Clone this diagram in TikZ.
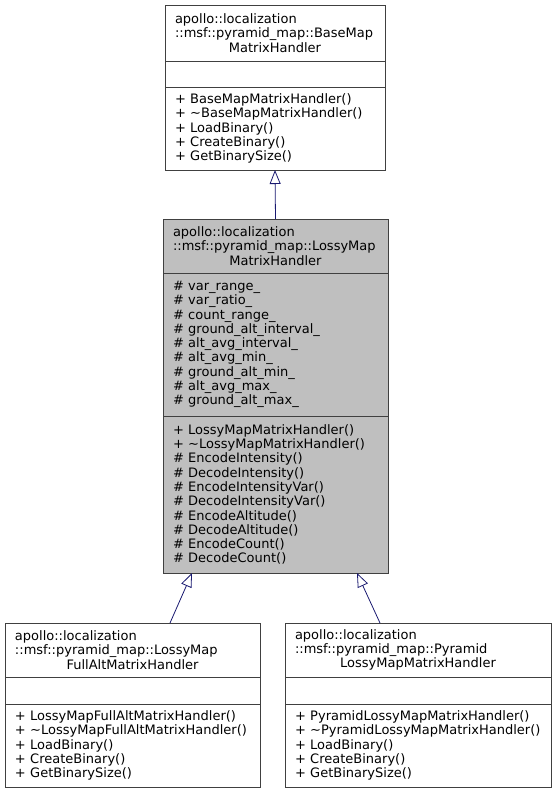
\documentclass[tikz,border=0pt]{standalone}
\usepackage{fontspec}
\setmainfont{DejaVu Sans}
\usetikzlibrary{arrows.meta,positioning}
\definecolor{edgeblue}{RGB}{25,25,112}
\hyphenpenalty=10000
\begin{document}
\begin{tikzpicture}[x=1pt,y=-1pt]
  \tikzstyle{every node}=[rectangle, draw=black!75, line width=0.8pt, inner xsep=10pt,
    inner ysep=0pt, outer sep=0pt, align=left, font=\fontsize{13}{14.3}\selectfont]
  \tikzstyle{current}=[fill=black!25]
  \tikzstyle{derived}=[draw=edgeblue, line width=0.8pt, -{Triangle[open, length=14pt, width=11pt]}]
  \def\cname#1#2#3{#1\\#2\\\makebox[\linewidth]{#3}}
  \useasboundingbox (0,0) rectangle (557,793);
  \node[anchor=north west, text width=200pt, minimum height=56pt] at (165,5) (baseT)
    {\cname{apollo::localization}{::msf::pyramid\_map::BaseMap}{MatrixHandler}};
  \node[below=0pt of baseT, text width=200pt, minimum height=26pt] (baseA) {};
  \node[below=0pt of baseA, text width=200pt, minimum height=83pt] (baseM)
    {+ BaseMapMatrixHandler()\\+ \textasciitilde{}BaseMapMatrixHandler()\\+ LoadBinary()\\
     + CreateBinary()\\+ GetBinarySize()};
  \node[current, anchor=north west, text width=205pt, minimum height=54pt] at (163,219) (lossyT)
    {\cname{apollo::localization}{::msf::pyramid\_map::LossyMap}{MatrixHandler}};
  \node[current, below=0pt of lossyT, text width=205pt, minimum height=143pt] (lossyA)
    {\# var\_range\_\\\# var\_ratio\_\\\# count\_range\_\\\# ground\_alt\_interval\_\\
     \# alt\_avg\_interval\_\\\# alt\_avg\_min\_\\\# ground\_alt\_min\_\\\# alt\_avg\_max\_\\
     \# ground\_alt\_max\_};
  \node[current, below=0pt of lossyA, text width=205pt, minimum height=157pt] (lossyM)
    {+ LossyMapMatrixHandler()\\+ \textasciitilde{}LossyMapMatrixHandler()\\\# EncodeIntensity()\\
     \# DecodeIntensity()\\\# EncodeIntensityVar()\\\# DecodeIntensityVar()\\\# EncodeAltitude()\\
     \# DecodeAltitude()\\\# EncodeCount()\\\# DecodeCount()};
  \node[anchor=north west, text width=235pt, minimum height=54pt] at (5,623) (fullT)
    {\cname{apollo::localization}{::msf::pyramid\_map::LossyMap}{FullAltMatrixHandler}};
  \node[below=0pt of fullT, text width=235pt, minimum height=27pt] (fullA) {};
  \node[below=0pt of fullA, text width=235pt, minimum height=83pt] (fullM)
    {+ LossyMapFullAltMatrixHandler()\\+ \textasciitilde{}LossyMapFullAltMatrixHandler()\\
     + LoadBinary()\\+ CreateBinary()\\+ GetBinarySize()};
  \node[anchor=north west, text width=246pt, minimum height=54pt] at (285,623) (pyrT)
    {\cname{apollo::localization}{::msf::pyramid\_map::Pyramid}{LossyMapMatrixHandler}};
  \node[below=0pt of pyrT, text width=246pt, minimum height=27pt] (pyrA) {};
  \node[below=0pt of pyrA, text width=246pt, minimum height=83pt] (pyrM)
    {+ PyramidLossyMapMatrixHandler()\\+ \textasciitilde{}PyramidLossyMapMatrixHandler()\\
     + LoadBinary()\\+ CreateBinary()\\+ GetBinarySize()};
  \draw[derived] (lossyT.north) -- (baseM.south);
  \draw[derived] ([xshift=37.5pt]fullT.north) -- ([xshift=-83.5pt]lossyM.south);
  \draw[derived] ([xshift=-38pt]pyrT.north) -- ([xshift=81.5pt]lossyM.south);
\end{tikzpicture}
\end{document}
